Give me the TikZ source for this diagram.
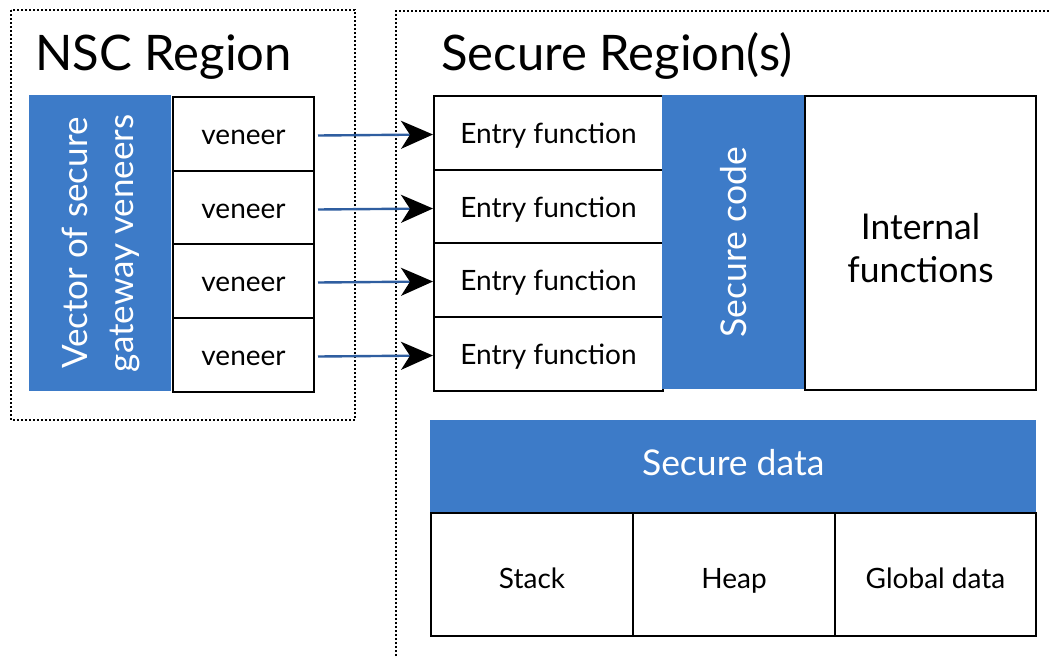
\documentclass[tikz,border=0pt]{standalone}
\usepackage{fontspec}
\setmainfont{Lato}
\usetikzlibrary{arrows.meta}
\definecolor{armblue}{RGB}{61,123,200}
\definecolor{arrblue}{RGB}{47,94,160}
\begin{document}
\begin{tikzpicture}[x=1pt,y=-1pt,
  region/.style={draw=black,line width=2pt,dotted},
  wbox/.style={draw=black,line width=2pt,fill=white,inner sep=0pt,anchor=north west},
  bbox/.style={fill=armblue,inner sep=0pt,anchor=north west,text=white},
  link/.style={draw=arrblue,line width=2.4pt,-{Stealth[length=32pt,width=28pt,inset=9pt,fill=black,color=black]}},
  title/.style={font=\fontsize{49}{56}\selectfont,anchor=base west,inner sep=0pt},
  med/.style={font=\fontsize{35.5}{43}\selectfont},
  sml/.style={font=\fontsize{28}{34}\selectfont,text height=24pt,text depth=3pt},
  low/.style={font=\fontsize{28}{34}\selectfont,text height=28pt,text depth=1pt}]
\useasboundingbox (0,0) rectangle (1051,656);
% regions
\draw[region] (11,10) rectangle (355,420);
\draw[region] (396,656) -- (396,11) -- (1060,11);
\node[title] (nsct) at (35,70) {NSC Region};
\node[title] (sect) at (441,70) {Secure Region(s)};
% NSC
\node[bbox,minimum width=142pt,minimum height=296pt] (vec) at (29,95) {};
\node[rotate=90,text=white,align=center,font=\fontsize{35}{46}\selectfont] (vect) at ([xshift=1pt]vec.center) {Vector of secure\\gateway veneers};
\foreach \i/\y in {1/96,2/170,3/243,4/317}{
  \node[wbox,minimum width=141pt,minimum height=74pt,sml] (v\i) at (172,\y) {veneer};
}
% entry functions
\foreach \i/\y in {1/95,2/169,3/242,4/316}{
  \node[wbox,minimum width=229pt,minimum height=74pt,sml] (e\i) at (433,\y) {Entry function};
}
\node[bbox,minimum width=142pt,minimum height=294pt] (sc) at (662,95) {};
\node[rotate=90,med,text=white] (sct) at (sc.center) {Secure code};
\node[wbox,minimum width=231pt,minimum height=294pt] (intf) at (804,95) {};
\node[med,align=center] (intft) at ([yshift=-5pt]intf.center) {Internal\\functions};
% data
\node[bbox,minimum width=606pt,minimum height=92pt,med,text height=26pt,text depth=8pt] (sd) at (430,420) {Secure data};
\node[wbox,minimum width=202pt,minimum height=123pt,low] (stk) at (430,512) {Stack};
\node[wbox,minimum width=202pt,minimum height=123pt,low] (hp) at (632,512) {Heap};
\node[wbox,minimum width=201pt,minimum height=123pt,low] (gd) at (834,512) {Global data};
% arrows
\foreach \i in {1,2,3,4}{
  \draw[link] ([xshift=3pt,yshift=-1.5pt]v\i.east) -- ([yshift=-1.5pt]e\i.west);
}
\end{tikzpicture}
\end{document}
